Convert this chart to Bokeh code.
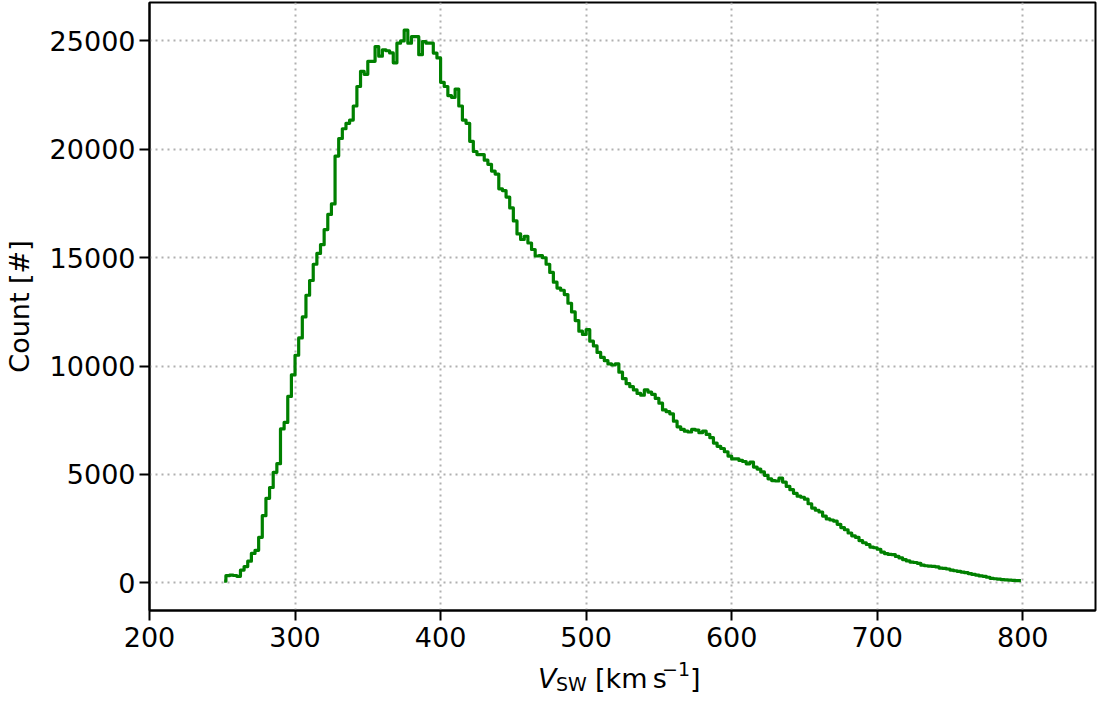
import numpy as np
from bokeh.plotting import figure
from bokeh.layouts import column
from bokeh.models import Range1d, FixedTicker, Label, ColumnDataSource
from bokeh.embed import file_html
from bokeh.resources import INLINE

# Histogram of solar-wind speed: bins of 2.5 km/s from 250 to 800 km/s
BIN_START = 250.0
BIN_WIDTH = 2.5
counts = [
    80, 330, 360, 340, 300, 590, 750, 1000, 1360, 1500,
    2100, 3100, 3900, 4400, 5100, 5500, 7100, 7400, 8600, 9600,
    10500, 11300, 12270, 13270, 13950, 14700, 15200, 15600, 16300, 17000,
    17480, 19690, 20500, 20950, 21200, 21350, 22000, 22900, 23600, 23460,
    24060, 24060, 24740, 24300, 24590, 24550, 24450, 23990, 24900, 25000,
    25500, 24900, 25200, 25200, 24370, 24970, 24900, 24900, 24440, 24220,
    23090, 22900, 22480, 22400, 22780, 22000, 21350, 21200, 20370, 19900,
    19760, 19760, 19500, 19310, 19000, 18860, 18180, 18100, 17800, 17300,
    16700, 16100, 15840, 15990, 15680, 15380, 15080, 15100, 15000, 14700,
    14320, 13870, 13600, 13500, 13300, 12900, 12500, 12100, 11610, 11460,
    11680, 11150, 10930, 10630, 10400, 10250, 10100, 10050, 10100, 9720,
    9420, 9190, 9050, 8900, 8740, 8660, 8900, 8800, 8700, 8510,
    8290, 7980, 7900, 7800, 7460, 7200, 7080, 7000, 6960, 7080,
    7050, 6930, 7000, 6850, 6700, 6450, 6300, 6200, 6050, 5850,
    5720, 5720, 5650, 5600, 5490, 5570, 5340, 5250, 5120, 4960,
    4800, 4720, 4700, 4830, 4650, 4450, 4300, 4130, 4000, 3950,
    3860, 3650, 3450, 3350, 3270, 3080, 2950, 2900, 2850, 2700,
    2550, 2450, 2300, 2170, 2100, 1950, 1850, 1770, 1650, 1620,
    1550, 1420, 1350, 1310, 1300, 1220, 1150, 1070, 1010, 960,
    940, 900, 815, 790, 770, 760, 740, 680, 665, 640,
    590, 560, 530, 500, 470, 430, 390, 360, 320, 300,
    260, 210, 190, 170, 150, 135, 125, 115, 105, 100,
]
x_ticks = [200, 300, 400, 500, 600, 700, 800]
y_ticks = [0, 5000, 10000, 15000, 20000, 25000]
y_label = "Count [#]"

centers = BIN_START + BIN_WIDTH * (np.arange(len(counts)) + 0.5)
src = ColumnDataSource(dict(v=centers, c=counts))

FONT = "DejaVu Sans"
FS = "27px"
W = 1097

p = figure(width=W, height=658, output_backend="svg", toolbar_location=None,
           x_range=Range1d(200, 850), y_range=Range1d(-1275, 26775),
           min_border_left=145, min_border_right=2, min_border_top=2,
           min_border_bottom=48)
p.background_fill_color = "white"
p.border_fill_color = "white"
p.outline_line_color = "black"
p.outline_line_width = 2
p.outline_line_alpha = 1.0

p.step(x="v", y="c", source=src, mode="center", line_color="#008000",
       line_width=3.2, line_join="round")

p.xaxis.ticker = FixedTicker(ticks=x_ticks)
p.yaxis.ticker = FixedTicker(ticks=y_ticks)
for ax in (p.xaxis[0], p.yaxis[0]):
    ax.major_tick_out = 10
    ax.major_tick_in = 0
    ax.minor_tick_out = 0
    ax.minor_tick_in = 0
    ax.major_tick_line_width = 2
    ax.major_tick_line_color = "black"
    ax.axis_line_width = 2
    ax.axis_line_color = "black"
    ax.major_label_text_font = FONT
    ax.major_label_text_font_size = FS
    ax.major_label_text_color = "black"
    ax.axis_label_text_font = FONT
    ax.axis_label_text_font_size = FS
    ax.axis_label_text_font_style = "normal"
    ax.axis_label_text_color = "black"
p.yaxis.major_label_standoff = 4
p.xaxis.major_label_standoff = 6
p.yaxis.axis_label = y_label
p.yaxis.axis_label_standoff = 12

for g in (p.xgrid[0], p.ygrid[0]):
    g.grid_line_color = "#b0b0b0"
    g.grid_line_dash = "2 4"
    g.grid_line_width = 2

# x-axis label strip: V_SW [km s^-1]  (frame of this strip aligns with p's frame)
q = figure(width=W, height=37, output_backend="svg", toolbar_location=None,
           x_range=Range1d(0, 945), y_range=Range1d(0, 37),
           x_axis_location=None, y_axis_location=None, min_border=0)
q.outline_line_color = None
q.grid.visible = False
q.background_fill_color = "white"
q.border_fill_color = "white"

pieces = [
    ("V", 388, 17, FS, "italic"),
    ("SW", 406, 12, "19px", "normal"),
    ("[km\u2009s", 445, 17, FS, "normal"),
    ("\u22121", 512, 27, "19px", "normal"),
    ("]", 540, 17, FS, "normal"),
]
for txt, sx, sy, fs, style in pieces:
    q.add_layout(Label(x=sx, y=sy, text=txt,
                       text_font=FONT, text_font_size=fs, text_font_style=style,
                       text_color="black", text_baseline="alphabetic",
                       text_align="left"))

layout = column(p, q, spacing=0)
open("out.html", "w").write(file_html(layout, INLINE))
